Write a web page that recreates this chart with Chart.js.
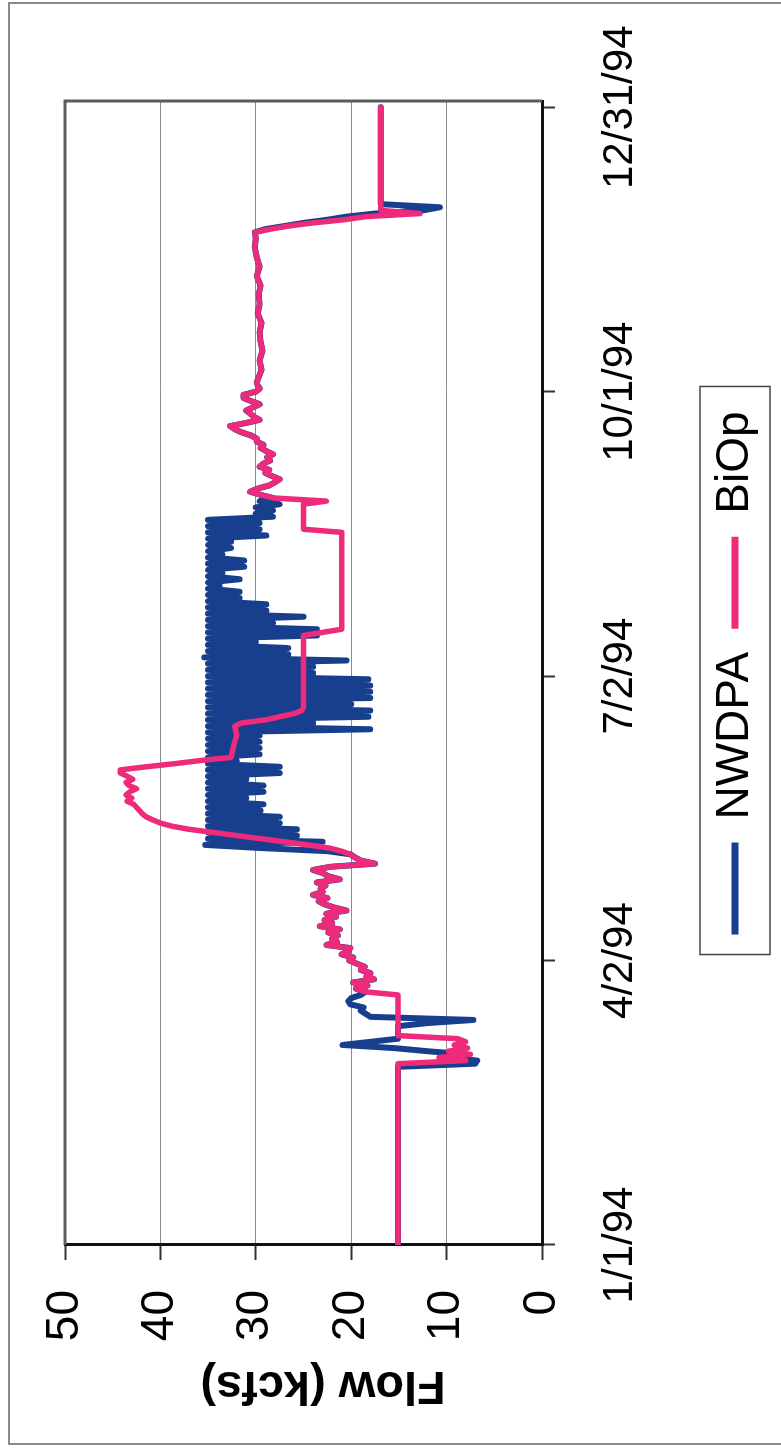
<!DOCTYPE html>
<html>
<head>
<meta charset="utf-8">
<title>Flow 1994</title>
<script src="https://cdn.jsdelivr.net/npm/chart.js@4.4.1/dist/chart.umd.min.js"></script>
<style>
  html, body { margin: 0; padding: 0; background: #fff; width: 781px; height: 1450px; overflow: hidden; }
  /* chart is laid out landscape and turned a quarter turn counter-clockwise */
  #wrap { position: absolute; left: 0; top: 0; width: 1450px; height: 800px;
          transform-origin: 0 0; transform: translateY(1450px) rotate(-90deg); }
  #wrap canvas { display: block; }
  #frame { position: absolute; left: 8px; top: 2px; width: 800px; height: 1443px; box-sizing: border-box;
           border-left: 2px solid #8a8a8a; border-top: 2px solid #8a8a8a; border-bottom: 2px solid #8a8a8a; }
</style>
</head>
<body>
<div id="wrap"><canvas id="flowChart" width="1450" height="800"></canvas></div>
<div id="frame"></div>
<script>
// Date axis: day of year 1994 (0 = Jan 1)
const tickDays = [0, 91, 182, 273, 364];
const tickLabels = ['1/1/94', '4/2/94', '7/2/94', '10/1/94', '12/31/94'];
const flowMin = 0, flowMax = 50, flowStep = 10;

const seriesNames = ['NWDPA', 'BiOp'];
const seriesColors = ['#173f8d', '#ee2a7b'];

// BiOp flow (kcfs)
const biopDays = [
  0, 57, 58, 59, 60, 61, 62, 63, 64, 65, 66, 67, 80,
  81, 82, 83, 84, 85, 86, 87, 88, 89, 90, 91, 92, 93, 94, 95, 96, 97, 98, 99, 100,
  101, 102, 103, 104, 105, 106, 107, 108, 109, 110, 111, 112, 113, 114, 115, 116, 117, 118, 119, 120,
  121, 122, 123, 124, 125, 126, 127, 128, 129, 130, 131, 132, 133, 134, 135, 136, 137, 138, 139, 140,
  141, 142, 143, 144, 145, 146, 147, 148, 149, 150, 151, 152, 153, 154, 155, 156,
  160, 163, 166, 167, 168, 169, 170, 171, 172, 195, 196, 197, 228, 229, 237, 238,
  239, 240, 241, 242, 243, 244, 245, 246, 247, 248, 249, 250, 251, 252, 253, 254, 255, 256, 257, 258,
  259, 260, 261, 262, 263, 264, 265, 266, 267, 268, 269, 270, 271, 272, 273, 274, 275, 276,
  280, 283, 286, 289, 292, 295, 298, 301, 304, 307, 310, 313, 316, 319, 322, 324,
  325, 326, 327, 328, 329, 330, 331, 364
];
const biopFlow = [
  15.1, 15.1, 15.1, 8.0, 10.8, 7.5, 9.8, 7.8, 9.2, 8.0, 8.8, 15.1, 15.1,
  18.5, 19.5, 18.3, 19.8, 17.6, 18.4, 18.0, 19.0, 18.6, 19.4, 20.2, 19.8, 21.0, 20.3, 20.1, 22.6, 21.5, 22.0, 21.4, 22.4,
  21.2, 23.3, 22.0, 22.8, 21.6, 22.6, 20.5, 21.8, 22.8, 23.4, 22.5, 24.0, 23.0, 23.2, 22.7, 23.6, 21.2, 22.4, 23.0, 24.0,
  22.2, 17.5, 19.0, 19.6, 20.1, 21.0, 22.3, 24.5, 27.0, 29.5, 32.0, 34.5, 37.0, 38.8, 40.0, 40.8, 41.5, 41.9, 42.2, 42.5,
  42.8, 43.5, 43.0, 43.6, 43.2, 42.5, 43.3, 43.6, 42.9, 43.5, 44.2, 44.2, 41.5, 38.5, 35.8, 32.6,
  32.3, 32.0, 32.2, 31.5, 29.0, 27.5, 26.0, 25.2, 25.0, 25.0, 23.0, 21.0, 21.0, 25.0, 25.0, 22.6,
  28.2, 29.5, 30.6, 29.8, 28.6, 28.0, 27.5, 28.3, 29.0, 28.6, 29.6, 29.2, 28.5, 28.8, 28.2, 28.9, 29.5, 29.2, 29.9, 29.9,
  30.5, 31.5, 32.2, 32.7, 31.0, 29.6, 30.2, 30.6, 31.0, 30.3, 29.6, 30.5, 31.3, 31.3, 30.0, 29.6, 29.8, 29.9,
  29.4, 29.6, 29.3, 29.5, 29.6, 29.4, 29.8, 29.6, 29.7, 29.5, 29.9, 29.6, 29.9, 30.1, 30.0, 30.1,
  28.5, 26.6, 24.0, 20.8, 18.5, 12.8, 16.9, 16.9
];

// NWDPA flow (kcfs)
const nwdpaDays = [
  0, 57, 58, 59, 60, 61, 62, 63, 64, 65, 66, 70, 71, 72, 73, 74, 75, 76, 77, 78, 79, 80,
  81, 82, 83, 84, 85, 86, 87, 88, 89, 90, 91, 92, 93, 94, 95, 96, 97, 98, 99, 100,
  101, 102, 103, 104, 105, 106, 107, 108, 109, 110, 111, 112, 113, 114, 115, 116, 117, 118, 119, 120,
  121, 122, 123, 124,
  125, 126, 127, 128, 129, 130, 131, 132, 133, 134, 135, 136, 137, 138, 139, 140, 141, 142, 143, 144,
  145, 146, 147, 148, 149, 150, 151, 152, 153, 154, 155, 156, 157, 158, 159, 160, 161, 162, 163, 164,
  165, 166, 167, 168, 169, 170, 171, 172, 173, 174, 175, 176, 177, 178, 179, 180, 181, 182, 183, 184,
  185, 186, 187, 188, 189, 190, 191, 192, 193, 194, 195, 196, 197, 198, 199, 200, 201, 202, 203, 204,
  205, 206, 207, 208, 209, 210, 211, 212, 213, 214, 215, 216, 217, 218, 219, 220, 221, 222, 223, 224,
  225, 226, 227, 228, 229, 230, 231, 232, 233, 234, 235, 236, 237, 238,
  239, 240, 241, 242, 243, 244, 245, 246, 247, 248, 249, 250, 251, 252, 253, 254, 255, 256, 257, 258,
  259, 260, 261, 262, 263, 264, 265, 266, 267, 268, 269, 270, 271, 272, 273, 274, 275, 276,
  280, 283, 286, 289, 292, 295, 298, 301, 304, 307, 310, 313, 316, 319, 322, 324,
  325, 326, 327, 328, 329, 330, 331, 332, 333, 364
];
const nwdpaFlow = [
  15.1, 15.1, 7.0, 6.8, 10.0, 8.0, 12.0, 15.5, 20.9, 18.0, 15.1, 15.1, 12.0, 7.2, 18.0, 18.5, 19.0, 18.7, 20.1, 20.3, 20.0, 19.0,
  18.5, 19.5, 18.3, 19.8, 17.6, 18.4, 18.0, 19.0, 18.6, 19.4, 20.2, 19.8, 21.0, 20.3, 20.1, 22.6, 21.5, 22.0, 21.4, 22.4,
  21.2, 23.3, 22.0, 22.8, 21.6, 22.6, 20.5, 21.8, 22.8, 23.4, 22.5, 24.0, 23.0, 23.2, 22.7, 23.6, 21.2, 22.4, 23.0, 24.0,
  22.2, 17.5, 19.0, 19.6,
  20.1, 22.5, 29.5, 35.3, 23.0, 35.0, 25.7, 35.0, 25.7, 35.0, 27.5, 35.0, 27.5, 35.0, 29.5, 35.0, 29.2, 35.0, 31.0, 35.0,
  29.2, 35.0, 29.2, 35.0, 31.0, 35.0, 27.5, 35.0, 27.5, 35.0, 32.0, 35.0, 29.6, 35.0, 29.6, 35.0, 29.6, 35.0, 29.6, 35.0,
  18.0, 35.0, 24.0, 35.0, 18.2, 35.0, 18.0, 35.0, 20.0, 35.0, 18.0, 35.0, 18.0, 35.0, 18.0, 35.0, 18.2, 35.0, 24.0, 35.0,
  24.0, 35.0, 20.5, 35.4, 26.6, 35.0, 26.6, 35.0, 30.0, 35.0, 23.6, 35.0, 23.6, 35.0, 28.2, 35.0, 25.0, 35.0, 28.9, 35.0,
  28.9, 35.0, 31.7, 35.0, 31.7, 35.0, 33.8, 35.0, 31.7, 35.0, 33.5, 35.0, 31.2, 35.0, 31.2, 35.0, 33.5, 35.0, 32.6, 35.0,
  32.6, 35.0, 28.9, 35.0, 29.6, 35.0, 29.6, 35.0, 28.2, 30.0, 28.2, 30.0, 27.5, 29.6,
  28.2, 29.5, 30.6, 29.8, 28.6, 28.0, 27.5, 28.3, 29.0, 28.6, 29.6, 29.2, 28.5, 28.8, 28.2, 28.9, 29.5, 29.2, 29.9, 29.9,
  30.5, 31.5, 32.2, 32.7, 31.0, 29.6, 30.2, 30.6, 31.0, 30.3, 29.6, 30.5, 31.3, 31.3, 30.0, 29.6, 29.8, 29.9,
  29.4, 29.6, 29.3, 29.5, 29.6, 29.4, 29.8, 29.6, 29.7, 29.5, 29.9, 29.6, 29.9, 30.1, 30.0, 30.1,
  29.0, 27.0, 25.0, 22.5, 20.5, 17.5, 12.5, 10.7, 16.9, 16.9
];

const toPoints = (days, flows) => days.map((d, i) => ({ x: d, y: flows[i] }));

Chart.defaults.font.family = "'Liberation Sans', Arial, Helvetica, sans-serif";
Chart.defaults.color = '#000';

// grey frame along the top and right edges of the plot area
const plotFrame = {
  id: 'plotFrame',
  afterDatasetsDraw(chart) {
    const { ctx, chartArea: a } = chart;
    ctx.save();
    ctx.strokeStyle = '#5c5c5c';
    ctx.lineWidth = 3;
    ctx.beginPath();
    ctx.moveTo(a.left, a.top);
    ctx.lineTo(a.right, a.top);
    ctx.lineTo(a.right, a.bottom);
    ctx.stroke();
    ctx.restore();
  }
};

// outline box round the legend entries
const legendFrame = {
  id: 'legendFrame',
  afterDraw(chart) {
    const boxes = chart.legend && chart.legend.legendHitBoxes;
    if (!boxes || !boxes.length) return;
    const { ctx } = chart;
    const first = boxes[0], last = boxes[boxes.length - 1];
    const cy = first.top + first.height / 2;
    const x0 = first.left - 20, x1 = last.left + last.width + 25;
    ctx.save();
    ctx.strokeStyle = '#444';
    ctx.lineWidth = 1.5;
    ctx.strokeRect(x0, cy - 35, x1 - x0, 70);
    ctx.restore();
  }
};

new Chart(document.getElementById('flowChart'), {
  type: 'line',
  data: {
    datasets: [
      {
        label: seriesNames[0],
        data: toPoints(nwdpaDays, nwdpaFlow),
        borderColor: seriesColors[0],
        backgroundColor: seriesColors[0],
        borderWidth: 6,
        order: 2
      },
      {
        label: seriesNames[1],
        data: toPoints(biopDays, biopFlow),
        borderColor: seriesColors[1],
        backgroundColor: seriesColors[1],
        borderWidth: 5.5,
        order: 1
      }
    ]
  },
  options: {
    responsive: false,
    animation: false,
    devicePixelRatio: 1,
    elements: {
      point: { radius: 0, hoverRadius: 0 },
      line: { tension: 0, borderJoinStyle: 'round', borderCapStyle: 'round', fill: false }
    },
    layout: { padding: { left: 10, right: 101, top: 65, bottom: 32 } },
    plugins: {
      tooltip: { enabled: false },
      legend: {
        position: 'bottom',
        fullSize: false,
        labels: {
          boxWidth: 92,
          boxHeight: 7,
          padding: 23,
          color: '#000',
          font: { size: 46 },
          sort: (a, b) => a.datasetIndex - b.datasetIndex,
          generateLabels(chart) {
            const items = Chart.defaults.plugins.legend.labels.generateLabels(chart);
            items.forEach(it => { it.lineWidth = 0; });
            return items;
          }
        }
      }
    },
    scales: {
      x: {
        type: 'linear',
        min: 0,
        max: 366,
        afterBuildTicks(scale) { scale.ticks = tickDays.map(v => ({ value: v })); },
        afterFit(scale) {
          scale.height = 147;
          scale.paddingLeft = 0;
          scale.paddingRight = 0;
        },
        grid: { display: true, drawOnChartArea: false, drawTicks: true, tickLength: 13, tickColor: '#333', tickWidth: 2 },
        border: { display: true, color: '#111', width: 3 },
        ticks: {
          autoSkip: false,
          maxRotation: 0,
          padding: 40,
          color: '#000',
          font: { size: 42 },
          callback: (v) => { const i = tickDays.indexOf(v); return i >= 0 ? tickLabels[i] : ''; }
        }
      },
      y: {
        min: flowMin,
        max: flowMax,
        afterFit(scale) { scale.width = 195; },
        grid: { color: '#8c8c8c', lineWidth: 1, tickLength: 15, tickColor: '#333', tickWidth: 2 },
        border: { color: '#111', width: 3 },
        ticks: { stepSize: flowStep, padding: 30, color: '#000', font: { size: 46 } },
        title: {
          display: true,
          text: 'Flow (kcfs)   ',
          color: '#000',
          font: { size: 47, weight: 'bold' },
          padding: { top: 27, bottom: 0 }
        }
      }
    }
  },
  plugins: [plotFrame, legendFrame]
});
</script>
</body>
</html>
